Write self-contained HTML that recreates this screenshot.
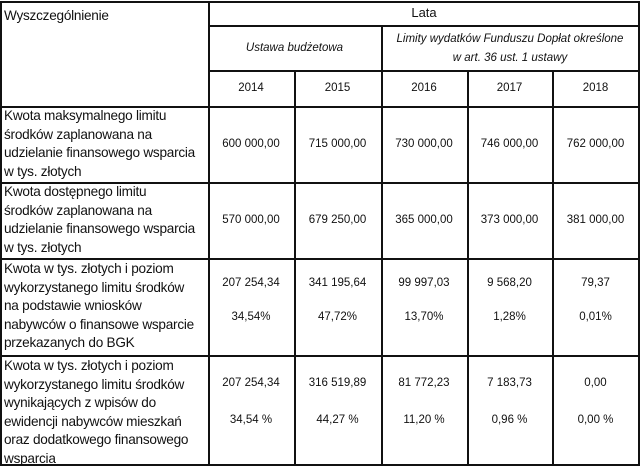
<!DOCTYPE html>
<html><head><meta charset="utf-8"><style>
body{margin:0;background:#fff;}
#t{position:relative;width:640px;height:466px;overflow:hidden;font-family:"Liberation Sans",sans-serif;color:#111;}
.h{position:absolute;background:#111;height:1.5px;}
.v{position:absolute;background:#111;width:1.5px;}
.c{position:absolute;text-align:center;font-size:11.5px;line-height:14px;}
.l{position:absolute;left:4px;width:205px;font-size:13.6px;line-height:18.6px;letter-spacing:-0.25px;white-space:nowrap;}
.i{font-style:italic;}
</style></head><body>
<div id="t">
<div class="h" style="left:0;top:1px;width:640px"></div>
<div class="h" style="left:208px;top:25px;width:432px"></div>
<div class="h" style="left:208px;top:70px;width:432px"></div>
<div class="h" style="left:0;top:106px;width:640px"></div>
<div class="h" style="left:0;top:182px;width:640px"></div>
<div class="h" style="left:0;top:258px;width:640px"></div>
<div class="h" style="left:0;top:355px;width:640px"></div>
<div class="h" style="left:0;top:464px;width:640px"></div>
<div class="v" style="left:0;top:1px;height:465px"></div>
<div class="v" style="left:208px;top:1px;height:465px"></div>
<div class="v" style="left:294px;top:70px;height:396px"></div>
<div class="v" style="left:381px;top:25px;height:441px"></div>
<div class="v" style="left:467px;top:70px;height:396px"></div>
<div class="v" style="left:552px;top:70px;height:396px"></div>
<div class="v" style="left:638px;top:1px;height:465px"></div>

<div class="l" style="top:7px">Wyszczególnienie</div>
<div class="c" style="left:208px;width:432px;top:6px;font-size:13px">Lata</div>
<div class="c i" style="left:208px;width:173px;top:41px">Ustawa budżetowa</div>
<div class="c i" style="left:381px;width:258px;top:30px;line-height:19px">Limity wydatków Funduszu Dopłat określone<br>w art. 36 ust. 1 ustawy</div>
<div class="c" style="left:208px;width:86px;top:81px">2014</div>
<div class="c" style="left:294px;width:87px;top:81px">2015</div>
<div class="c" style="left:381px;width:86px;top:81px">2016</div>
<div class="c" style="left:467px;width:85px;top:81px">2017</div>
<div class="c" style="left:552px;width:87px;top:81px">2018</div>

<div class="l" style="top:107px">Kwota maksymalnego limitu<br>środków zaplanowana na<br>udzielanie finansowego wsparcia<br>w tys. złotych</div>
<div class="l" style="top:183px">Kwota dostępnego limitu<br>środków zaplanowana na<br>udzielanie finansowego wsparcia<br>w tys. złotych</div>
<div class="l" style="top:260px">Kwota w tys. złotych i poziom<br>wykorzystanego limitu środków<br>na podstawie wniosków<br>nabywców o finansowe wsparcie<br>przekazanych do BGK</div>
<div class="l" style="top:357px">Kwota w tys. złotych i poziom<br>wykorzystanego limitu środków<br>wynikających z wpisów do<br>ewidencji nabywców mieszkań<br>oraz dodatkowego finansowego<br>wsparcia</div>

<div id="vals"></div>
</div>
<script>
const colLeft=[208,294,381,467,552];
const colW=[86,87,86,85,87];
const row1=["600 000,00","715 000,00","730 000,00","746 000,00","762 000,00"];
const row2=["570 000,00","679 250,00","365 000,00","373 000,00","381 000,00"];
const row3a=["207 254,34","341 195,64","99 997,03","9 568,20","79,37"];
const row3b=["34,54%","47,72%","13,70%","1,28%","0,01%"];
const row4a=["207 254,34","316 519,89","81 772,23","7 183,73","0,00"];
const row4b=["34,54 %","44,27 %","11,20 %","0,96 %","0,00 %"];
const rows=[[row1,137,'max-limit'],[row2,213,'available-limit'],[row3a,276,'bgk-amount'],[row3b,310,'bgk-percent'],[row4a,376,'registry-amount'],[row4b,413,'registry-percent']];
const box=document.getElementById('vals');
rows.forEach(([arr,top,nm])=>{
 arr.forEach((v,i)=>{
  const d=document.createElement('div');
  d.className='c';
  d.style.left=colLeft[i]+'px';d.style.width=colW[i]+'px';d.style.top=top+'px';
  d.textContent=v;
  
  
  box.appendChild(d);
 });
});
</script>
</body></html>
